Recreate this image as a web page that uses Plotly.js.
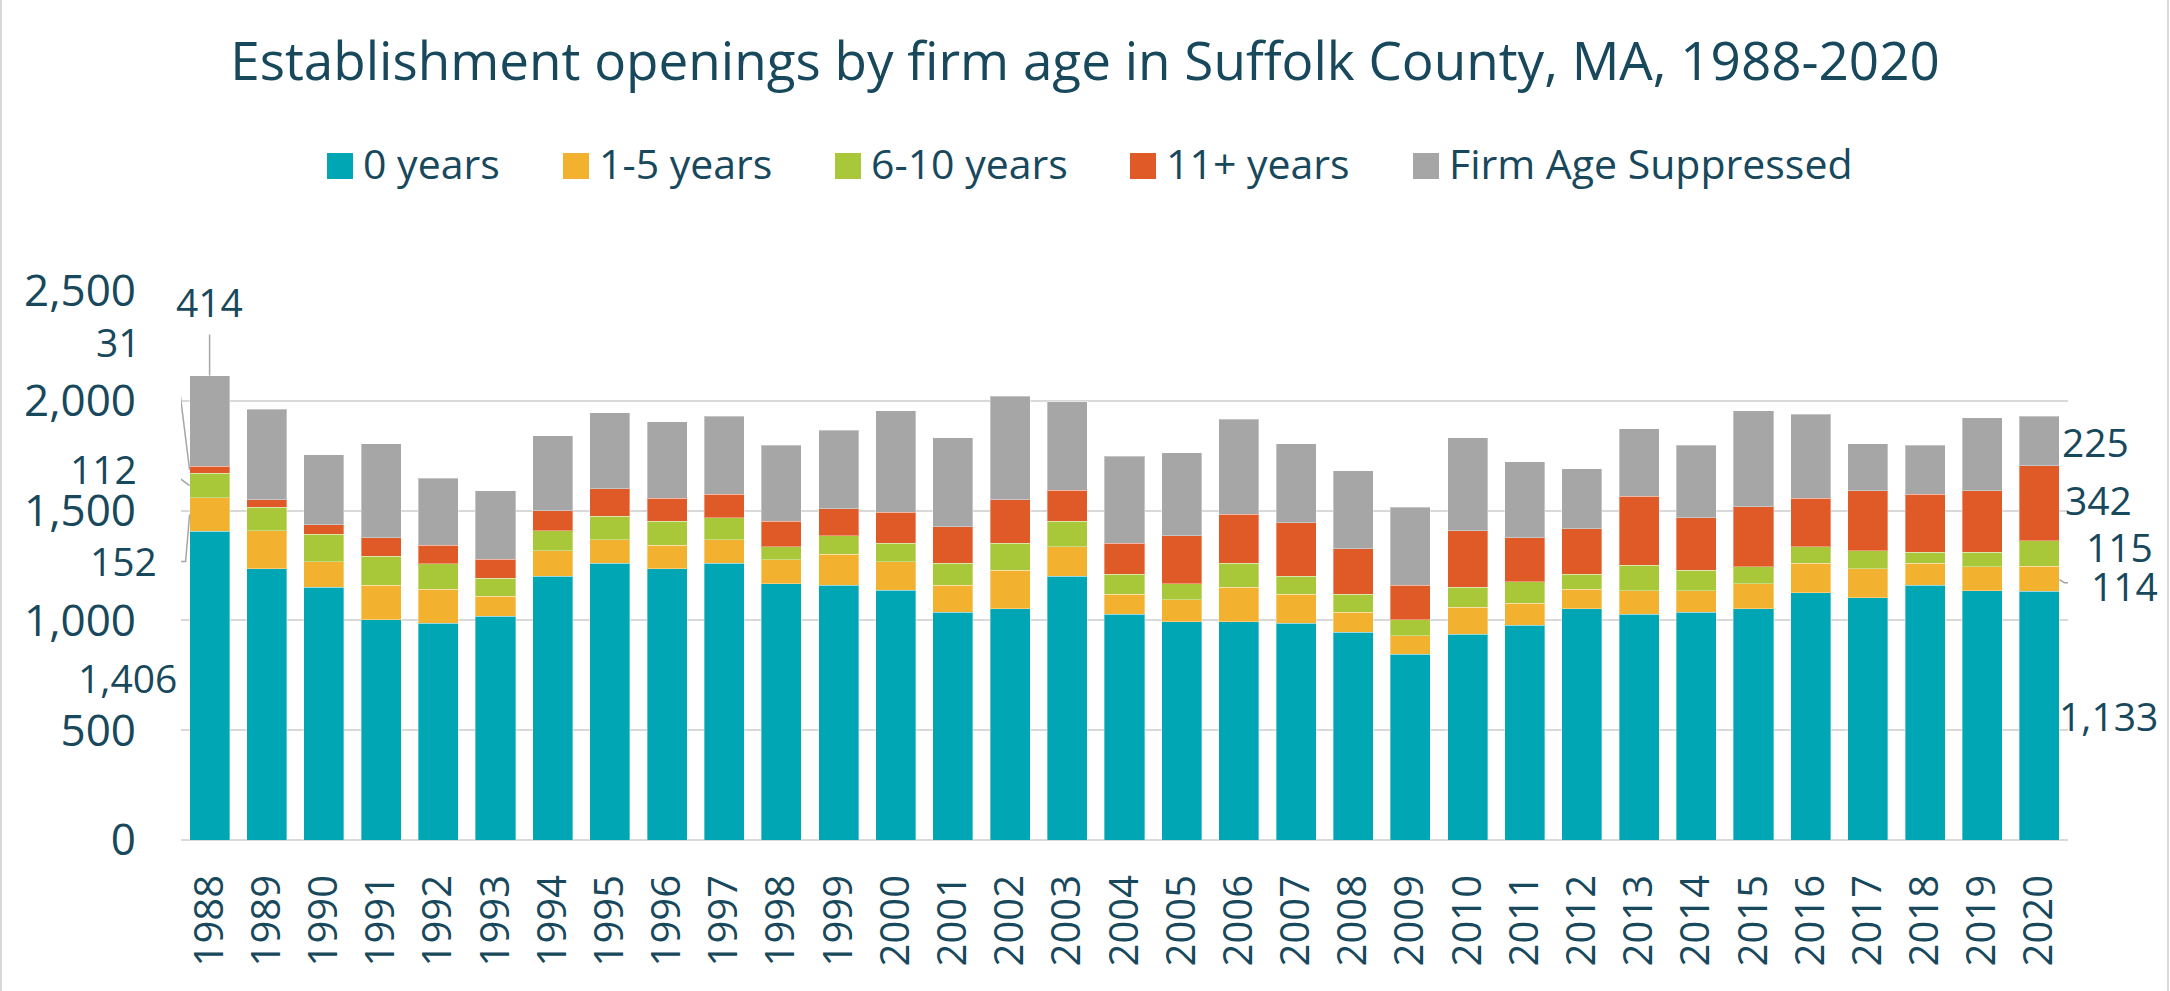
<!DOCTYPE html>
<html>
<head>
<meta charset="utf-8">
<script src="https://cdn.plot.ly/plotly-3.0.1.min.js"></script>
<style>
  html, body { margin: 0; padding: 0; background: #ffffff; }
  #chart { width: 2170px; height: 991px; }
</style>
</head>
<body>
<div id="chart"></div>
<script>
// ---------------- DATA ----------------
const years = ['1988','1989','1990','1991','1992','1993','1994','1995','1996','1997','1998',
  '1999','2000','2001','2002','2003','2004','2005','2006','2007','2008','2009','2010',
  '2011','2012','2013','2014','2015','2016','2017','2018','2019','2020'];

const seriesNames = ['0 years', '1-5 years', '6-10 years', '11+ years', 'Firm Age Suppressed'];

const age0 = [1406,1235,1152,1003,988,1019,1202,1260,1235,1260,1168,
  1161,1138,1037,1053,1202,1028,995,995,988,945,846,938,
  979,1053,1028,1037,1053,1127,1103,1161,1136,1133];

const age1to5 = [152,173,115,156,155,90,116,108,108,108,108,
  140,129,122,175,134,92,99,157,132,92,83,122,
  99,90,108,99,115,133,132,99,108,114];

const age6to10 = [112,108,126,133,115,84,90,106,108,99,60,
  85,85,101,124,115,90,74,108,82,83,74,92,
  99,67,115,92,76,76,83,50,66,115];

const age11plus = [31,34,43,85,85,85,91,126,106,108,115,
  122,140,166,198,142,142,218,223,242,207,158,257,
  200,208,315,239,273,221,273,265,281,342];

const suppressed = [414,412,319,428,304,313,341,346,347,355,347,
  357,463,405,471,403,396,378,432,361,354,355,422,
  346,272,306,331,438,382,214,223,331,225];

const yTickVals = [0, 500, 1000, 1500, 2000, 2500];

// ---------------- STYLE ----------------
const colors = ['#00A6B4', '#F3B130', '#A8C83A', '#E05A27', '#A6A6A6'];
const textColor = '#17485c';
const fontFamily = '"Open Sans", "Noto Sans", "DejaVu Sans", sans-serif';
const gridColor = '#d9d9d9';

const M = { l: 181, r: 102, t: 291, b: 151 };
const W = 2170, H = 991;
const plotW = W - M.l - M.r, plotH = H - M.t - M.b;
const px = X => (X - M.l) / plotW;            // pixel -> paper x
const py = Y => (H - M.b - Y) / plotH;        // pixel -> paper y

const seriesData = [age0, age1to5, age6to10, age11plus, suppressed];

const traces = seriesData.map((vals, i) => ({
  type: 'bar',
  name: seriesNames[i],
  x: years,
  y: vals,
  marker: { color: colors[i], line: { color: 'rgba(255,255,255,0.35)', width: 1 } },
  showlegend: false,
  hoverinfo: 'x+y+name'
}));

// cumulative stacks
function segMid(idx, s) {
  let base = 0;
  for (let k = 0; k < s; k++) base += seriesData[k][idx];
  return base + seriesData[s][idx] / 2;
}
function segTop(idx, s) {
  let base = 0;
  for (let k = 0; k <= s; k++) base += seriesData[k][idx];
  return base;
}
const fmt = v => v.toLocaleString('en-US');

const annotations = [];
const shapes = [];

function label(idx, yVal, text, xanchor, xshift, yshift) {
  annotations.push({
    xref: 'x', yref: 'y', x: idx, y: yVal, text: text,
    xanchor: xanchor, yanchor: 'middle', xshift: xshift, yshift: yshift,
    showarrow: false, borderpad: 0, borderwidth: 0,
    font: { family: fontFamily, size: 39, color: textColor }
  });
}
function leader(idx, yVal, path) {
  shapes.push({
    type: 'path', xref: 'x', yref: 'y',
    xsizemode: 'pixel', ysizemode: 'pixel', xanchor: idx, yanchor: yVal,
    path: path, line: { color: '#a6a6a6', width: 1.5 }
  });
}

// First year labels (left side)
const f = 0;
label(f, segTop(f, 4), fmt(suppressed[f]), 'center', 0, 74);
leader(f, segTop(f, 4), 'M0,0 L0,41');
label(f, segMid(f, 3), fmt(age11plus[f]), 'right', -69, 128);
leader(f, segMid(f, 3), 'M-51,128 L-36,128 L-20,0');
label(f, segMid(f, 2), fmt(age6to10[f]), 'right', -73, 17);
leader(f, segMid(f, 2), 'M-59,19 L-46,19 L-20,0');
label(f, segMid(f, 1), fmt(age1to5[f]), 'right', -53, -46);
leader(f, segMid(f, 1), 'M-41,-47 L-24,-47 L-20,0');
label(f, segMid(f, 0), fmt(age0[f]), 'right', -33, 8);

// Last year labels (right side)
const l = years.length - 1;
label(l, segMid(l, 4), fmt(suppressed[l]), 'left', 23, 0);
label(l, segMid(l, 3), fmt(age11plus[l]), 'left', 26, 4);
label(l, segMid(l, 2), fmt(age6to10[l]), 'left', 47, 7);
label(l, segMid(l, 1), fmt(age1to5[l]), 'left', 52, -7);
leader(l, segMid(l, 1), 'M20,-1 L25,-4 L39,-4');
label(l, segMid(l, 0), fmt(age0[l]), 'left', 20, 0);

// Custom legend
const legendSwatchX = [327, 563, 835, 1130, 1413];
const legendY = 163;
seriesNames.forEach((name, i) => {
  const sx = legendSwatchX[i];
  shapes.push({
    type: 'rect', xref: 'paper', yref: 'paper',
    x0: px(sx), x1: px(sx + 26), y0: py(legendY + 16), y1: py(legendY - 10),
    fillcolor: colors[i], line: { width: 0 }
  });
  annotations.push({
    xref: 'paper', yref: 'paper', x: px(sx + 36), y: py(legendY),
    xanchor: 'left', yanchor: 'middle', text: name, showarrow: false,
    borderpad: 0, borderwidth: 0,
    font: { family: fontFamily, size: 41, color: textColor }
  });
});

// Chart side borders
shapes.push({ type: 'line', xref: 'paper', yref: 'paper', x0: px(1), x1: px(1), y0: py(0), y1: py(H),
  line: { color: '#d9d9d9', width: 2 } });
shapes.push({ type: 'line', xref: 'paper', yref: 'paper', x0: px(2168), x1: px(2168), y0: py(0), y1: py(H),
  line: { color: '#d9d9d9', width: 2 } });

const layout = {
  width: W, height: H,
  margin: M,
  paper_bgcolor: '#ffffff', plot_bgcolor: '#ffffff',
  barmode: 'stack',
  bargap: 0.3,
  font: { family: fontFamily, color: textColor },
  title: {
    text: 'Establishment openings by firm age in Suffolk County, MA, 1988-2020',
    font: { family: fontFamily, size: 53, color: textColor },
    xref: 'container', x: 0.5, xanchor: 'center',
    yref: 'container', y: 1 - 61 / H, yanchor: 'middle'
  },
  showlegend: false,
  xaxis: {
    type: 'category',
    range: [-0.5, years.length - 0.5],
    autorange: false,
    tickangle: -90,
    tickfont: { family: fontFamily, size: 40, color: textColor },
    showgrid: false, zeroline: false, showline: false, ticks: '',
    ticklabelstandoff: 26
  },
  yaxis: {
    range: [0, 2500],
    autorange: false,
    tickvals: yTickVals,
    tickformat: ',d',
    tickfont: { family: fontFamily, size: 44, color: textColor },
    showgrid: true, gridcolor: gridColor, gridwidth: 2,
    zeroline: true, zerolinecolor: gridColor, zerolinewidth: 2,
    showline: false, ticks: '',
    ticklabelstandoff: 44
  },
  annotations: annotations,
  shapes: shapes
};

Plotly.newPlot('chart', traces, layout, { displayModeBar: false, responsive: false });
</script>
</body>
</html>
